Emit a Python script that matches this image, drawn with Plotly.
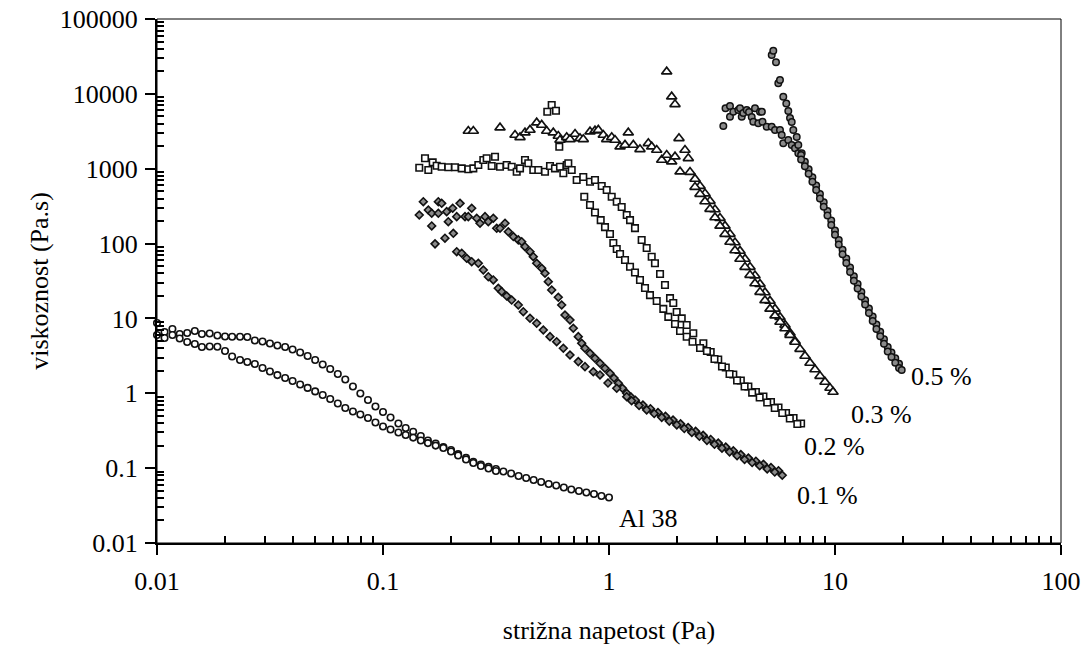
import math
import plotly.graph_objects as go

# ---------------- data ----------------
# Al 38 (open circles) - two branches of the flow curve
al38_up_x = [0.0100, 0.0108, 0.0117, 0.0126, 0.0136, 0.0147, 0.0158, 0.0171, 0.0185, 0.0200,
             0.0215, 0.0233, 0.0251, 0.0271, 0.0293, 0.0316, 0.0341, 0.0369, 0.0398, 0.0430,
             0.0464, 0.0501, 0.0541, 0.0584, 0.0631, 0.0681, 0.0736, 0.0794, 0.0858, 0.0926,
             0.100, 0.108, 0.117, 0.126, 0.136, 0.147, 0.158, 0.171, 0.185, 0.200,
             0.215, 0.233, 0.251, 0.271, 0.293, 0.316, 0.341, 0.369, 0.398, 0.430,
             0.464, 0.501, 0.541, 0.584, 0.631, 0.681, 0.736, 0.794, 0.858, 0.926, 1.000]
al38_up_y = [8.68, 6.58, 7.22, 6.19, 6.38, 6.79, 6.19, 6.28, 5.91, 5.73,
             5.69, 5.69, 5.64, 5.07, 4.91, 4.62, 4.35, 4.15, 3.84, 3.50,
             3.15, 2.78, 2.42, 2.11, 1.81, 1.53, 1.23, 0.993, 0.813, 0.665,
             0.562, 0.474, 0.395, 0.344, 0.307, 0.269, 0.234, 0.213, 0.191, 0.175,
             0.154, 0.137, 0.122, 0.112, 0.104, 0.0973, 0.0901, 0.0847, 0.0785, 0.0738,
             0.0694, 0.0653, 0.0614, 0.0586, 0.0551, 0.0518, 0.0495, 0.0472, 0.0451, 0.0424, 0.0405]
al38_down_x = [0.0100, 0.0108, 0.0117, 0.0126, 0.0136, 0.0147, 0.0158, 0.0171, 0.0185, 0.0200,
               0.0215, 0.0233, 0.0251, 0.0271, 0.0293, 0.0316, 0.0341, 0.0369, 0.0398, 0.0430,
               0.0464, 0.0501, 0.0541, 0.0584, 0.0631, 0.0681, 0.0736, 0.0794, 0.0858, 0.0926,
               0.100, 0.108, 0.117, 0.126, 0.136, 0.147, 0.158, 0.171, 0.185, 0.200,
               0.215, 0.233, 0.251, 0.271, 0.293, 0.316]
al38_down_y = [6.00, 5.47, 6.00, 5.39, 4.84, 4.55, 4.15, 4.21, 4.19, 3.67,
               3.10, 2.78, 2.62, 2.46, 2.18, 1.95, 1.75, 1.60, 1.46, 1.31,
               1.18, 1.06, 0.948, 0.838, 0.730, 0.635, 0.571, 0.520, 0.467, 0.407,
               0.360, 0.328, 0.299, 0.277, 0.256, 0.234, 0.216, 0.200, 0.186, 0.167,
               0.1475, 0.1303, 0.117, 0.1067, 0.0988, 0.0915]

# 0.1 % (grey diamonds)
c01_up_x = [0.1447, 0.1508, 0.1587, 0.1643, 0.1643, 0.1699, 0.1757, 0.1757, 0.1818, 0.1880,
            0.1913, 0.1945, 0.2034, 0.2047, 0.2119, 0.2192, 0.2306, 0.2385, 0.2469, 0.2598,
            0.2687, 0.2827, 0.2924, 0.3077, 0.3185, 0.3294, 0.3467, 0.3585, 0.3772,
            0.3969, 0.4109, 0.4249, 0.4471, 0.4624, 0.4787, 0.5038, 0.5210, 0.5388, 0.5578,
            0.5965, 0.6175, 0.6386, 0.6720, 0.6950, 0.7313, 0.7570, 0.7829, 0.8240, 0.8670,
            0.9124, 0.9600, 1.010, 1.052, 1.100, 1.147, 1.198, 1.251,
            1.308, 1.413, 1.525, 1.647, 1.778, 1.920, 2.073, 2.239, 2.417, 2.610,
            2.818, 3.043, 3.286, 3.548, 3.831, 4.137, 4.467, 4.823, 5.208, 5.623]
c01_up_y = [241, 363, 281, 254, 172, 99.1, 363, 254, 345, 118,
            267, 196, 296, 137, 229, 345, 229, 229, 296, 218,
            187, 229, 196, 218, 160, 160, 187, 144, 124,
            112, 106, 90.9, 77.9, 66.8, 54.6, 46.8, 40.1, 31.0, 24.0,
            19.2, 15.1, 11.1, 9.54, 7.39, 5.71, 4.66, 4.00, 3.42, 2.94,
            2.52, 2.16, 1.85, 1.60, 1.36, 1.167, 1.00, 0.893,
            0.809, 0.698, 0.623, 0.554, 0.493, 0.440, 0.391, 0.349, 0.310, 0.274,
            0.242, 0.216, 0.191, 0.1705, 0.1518, 0.1363, 0.1239, 0.1126, 0.1020, 0.0925]
c01_down_x = [0.2119, 0.2230, 0.2346, 0.2469, 0.2641, 0.2779, 0.2924, 0.3077, 0.3237, 0.3351,
              0.3527, 0.3711, 0.3969, 0.4176, 0.4471, 0.4787, 0.5121, 0.5482, 0.5867, 0.6280,
              0.6720, 0.7313, 0.7829, 0.8520, 0.9124, 0.9899, 1.082, 1.198,
              1.259, 1.359, 1.468, 1.585, 1.711, 1.848, 1.995, 2.154, 2.326, 2.512,
              2.712, 2.929, 3.162, 3.415, 3.687, 3.981, 4.299, 4.642, 5.012, 5.412, 5.843]
c01_down_y = [77.9, 74.2, 63.6, 57.3, 54.6, 44.4, 36.1, 32.7, 25.3, 22.8,
              19.95, 17.6, 15.1, 12.3, 10.05, 8.62, 7.01, 5.71, 4.89, 4.00,
              3.25, 2.65, 2.27, 1.94, 1.76, 1.37, 1.167, 0.901,
              0.794, 0.687, 0.600, 0.536, 0.477, 0.425, 0.378, 0.338, 0.300, 0.266,
              0.235, 0.208, 0.185, 0.165, 0.1463, 0.1305, 0.1187, 0.1075, 0.0977, 0.0886, 0.0803]

# 0.2 % (open squares)
c02_up_x = [0.1447, 0.1534, 0.1587, 0.1659, 0.1728, 0.1818, 0.1945, 0.2083, 0.2230, 0.2385,
            0.2510, 0.2641, 0.2779, 0.2876, 0.3027, 0.3131, 0.3294, 0.3527, 0.3711, 0.3905,
            0.4039, 0.4249, 0.4394, 0.4624, 0.4866, 0.5210, 0.5482, 0.5767, 0.6069, 0.6280,
            0.6499, 0.6606, 0.6839, 0.7195,
            0.7695, 0.8240, 0.8670, 0.9284, 0.9768, 1.028, 1.082, 1.138, 1.198, 1.239,
            1.303, 1.395, 1.468, 1.545, 1.597, 1.682, 1.769, 1.862, 1.925, 1.993,
            2.098, 2.207, 2.360, 2.615,
            2.818, 3.043, 3.286, 3.548, 3.831, 4.137, 4.467, 4.823, 5.208, 5.623,
            6.072, 6.556, 7.079]
c02_up_y = [1031, 1377, 961, 1217, 1097, 1063, 1044, 1044, 1012, 982,
            1012, 1121, 1307, 1377, 1087, 1447, 1063, 1121, 1063, 912,
            1012, 1307, 1181, 961, 961, 912, 1087, 1012, 1063, 868,
            1121, 1181, 961, 707,
            775, 670, 707, 587, 519, 423, 362, 308, 241, 206,
            161, 111.6, 87.2, 66.8, 54.5, 39.2, 28.0, 18.7, 16.1, 12.2,
            10.03, 8.17, 6.33, 4.65,
            3.56, 2.83, 2.21, 1.78, 1.48, 1.23, 1.04, 0.906, 0.765, 0.646,
            0.546, 0.468, 0.395]
c02_peak_x = [0.5333, 0.5578, 0.5826, 0.6026]
c02_peak_y = [5773, 7094, 5953, 1968]
c02_down_x = [0.7773, 0.8240, 0.8670, 0.9190, 0.9600, 1.010, 1.045, 1.082, 1.119, 1.177,
              1.239, 1.303, 1.371, 1.443, 1.518, 1.626, 1.739, 1.830, 1.959, 2.062,
              2.207, 2.342, 2.528,
              2.712, 2.929, 3.162, 3.415, 3.687, 3.981, 4.299, 4.642, 5.012, 5.412,
              5.843, 6.310, 6.813]
c02_down_y = [423, 327, 260, 206, 166, 134, 101.7, 84.6, 72.5, 60.3,
              49.1, 41.1, 32.6, 25.5, 20.5, 17.1, 13.4, 10.5, 8.42, 6.79,
              5.70, 4.89, 4.03,
              3.67, 2.87, 2.28, 1.81, 1.48, 1.23, 1.02, 0.879, 0.754, 0.636,
              0.546, 0.461, 0.389]

# 0.3 % (open triangles)
c03_plateau_x = [0.2385, 0.2510, 0.3294, 0.3838, 0.4039, 0.4249, 0.4471, 0.4787, 0.5038, 0.5300,
                 0.5669, 0.5965, 0.6069, 0.6499, 0.6720, 0.7075, 0.7443, 0.7695, 0.8240, 0.8670,
                 0.8968, 0.9436, 0.9768, 1.028, 1.063, 1.119, 1.177, 1.217, 1.281, 1.371,
                 1.493, 1.545, 1.626, 1.711, 1.800, 1.894, 1.959, 2.062, 2.169, 2.243]
c03_plateau_y = [3188, 3188, 3529, 2819, 2627, 3026, 3289, 4117, 3836, 3188,
                 3026, 2734, 2417, 2627, 2470, 2907, 2548, 2470, 3121, 3218,
                 3289, 2819, 2470, 2627, 2417, 1968, 2073, 3026, 2073, 1816,
                 2184, 1968, 1777, 1307, 1524, 1240, 1447, 912, 1777, 1377]
c03_peak_x = [1.800, 1.894, 1.959, 2.040]
c03_peak_y = [19760, 9158, 7251, 2548]
c03_right_x = [2.283, 2.402, 2.527, 2.659, 2.798, 2.944, 3.098, 3.260, 3.430, 3.610,
               3.798, 3.997, 4.206, 4.425, 4.657, 4.900, 5.156, 5.426, 5.709, 6.008,
               6.322, 6.652, 7.000, 7.366, 7.751, 8.156, 8.582, 9.030, 9.502, 9.80]
c03_right_y = [903, 729, 587, 466, 370, 285, 219, 172, 134, 103.3,
               79.6, 62.2, 48.6, 37.4, 28.8, 22.2, 17.1, 13.4, 10.4, 8.17,
               6.39, 4.99, 3.90, 3.15, 2.54, 2.08, 1.70, 1.415, 1.176, 1.04]
c03_left_x = [2.402, 2.527, 2.659, 2.798, 2.944, 3.098, 3.260, 3.430, 3.610, 3.798,
              3.997, 4.206, 4.425, 4.657, 4.900, 5.156, 5.426, 5.709, 6.008, 6.322, 6.652]
c03_left_y = [569, 459, 365, 289, 223, 172, 134, 105, 80.8, 62.2,
              48.6, 38.0, 29.3, 22.5, 17.4, 13.4, 10.9, 8.96, 7.34, 6.00, 4.84]

# 0.5 % (grey circles)
c05_plateau_x = [3.205, 3.277, 3.430, 3.430, 3.548, 3.734, 3.798, 3.866, 3.929, 4.068,
                 4.164, 4.280, 4.350, 4.426, 4.577, 4.657, 4.748, 4.777, 4.986, 5.248,
                 5.426, 5.709, 5.810, 5.904, 6.214, 6.434, 6.653, 6.881]
c05_plateau_y = [3726, 6421, 6893, 4961, 5784, 6094, 6421, 4961, 5558, 6094,
                 5731, 4915, 4252, 6421, 4049, 5784, 5784, 4252, 3646, 3646,
                 3295, 3295, 2825, 2188, 2423, 2077, 1876, 1609]
c05_peak_x = [5.248, 5.333, 5.482, 5.612, 5.709, 5.904, 6.088, 6.214, 6.323, 6.434,
              6.539, 6.770, 6.881, 7.123]
c05_peak_y = [33080, 37770, 26430, 13860, 15340, 9175, 7442, 5908, 4766, 4213,
              3295, 2657, 2077, 1609]
c05_a_x = [7.079, 7.356, 7.644, 7.943, 8.254, 8.577, 8.913, 9.261, 9.624, 10.00,
           10.39, 10.80, 11.22, 11.66, 12.12, 12.59, 13.08, 13.59, 14.13, 14.68,
           15.25, 15.85, 16.47, 17.11, 17.78, 18.48, 19.20]
c05_a_y = [1527, 1239, 980, 769, 596, 460, 356, 273, 203, 150,
           112, 82.9, 63.3, 47.8, 36.6, 28.9, 22.6, 17.5, 13.6, 10.6,
           8.31, 6.66, 5.27, 4.16, 3.50, 2.93, 2.49]
c05_b_x = [7.079, 7.356, 7.644, 7.943, 8.254, 8.577, 8.913, 9.261, 9.624, 10.00,
           10.39, 10.80, 11.22, 11.66, 12.12, 12.59, 13.08, 13.59, 14.13, 14.68,
           15.25, 15.85, 16.47, 17.11, 17.78, 18.48, 19.20, 19.73]
c05_b_y = [1330, 1079, 854, 670, 519, 401, 310, 238, 177, 131,
           97.3, 72.2, 55.1, 41.6, 31.9, 25.1, 19.7, 15.3, 11.8, 9.23,
           7.24, 5.80, 4.59, 3.62, 3.05, 2.55, 2.17, 2.05]

x_tick_vals = [0.01, 0.1, 1, 10, 100]
x_tick_text = ["0.01", "0.1", "1", "10", "100"]
y_tick_vals = [0.01, 0.1, 1, 10, 100, 1000, 10000, 100000]
y_tick_text = ["0.01", "0.1", "1", "10", "100", "1000", "10000", "100000"]

series_labels = ["Al 38", "0.1 %", "0.2 %", "0.3 %", "0.5 %"]

# ---------------- styles ----------------
GREY = "#8a8a8a"
EDGE = "#111111"
FONT = "Liberation Serif, Times New Roman, serif"

st_al38 = dict(symbol="circle", size=6.5, color="white", line=dict(color=EDGE, width=1.6))
st_c01 = dict(symbol="diamond", size=6, color=GREY, line=dict(color=EDGE, width=1.6))
st_c02 = dict(symbol="square", size=6.5, color="white", line=dict(color=EDGE, width=1.6))
st_c03 = dict(symbol="triangle-up", size=9, color="white", line=dict(color=EDGE, width=1.7))
st_c05 = dict(symbol="circle", size=6.5, color=GREY, line=dict(color=EDGE, width=1.5))

fig = go.Figure()


def add(xs, ys, style):
    fig.add_trace(go.Scatter(x=xs, y=ys, mode="markers", marker=style,
                             cliponaxis=False, showlegend=False, hoverinfo="skip"))


add(al38_up_x, al38_up_y, st_al38)
add(al38_down_x, al38_down_y, st_al38)
add(c01_up_x, c01_up_y, st_c01)
add(c01_down_x, c01_down_y, st_c01)
add(c02_up_x, c02_up_y, st_c02)
add(c02_peak_x, c02_peak_y, st_c02)
add(c02_down_x, c02_down_y, st_c02)
add(c03_plateau_x, c03_plateau_y, st_c03)
add(c03_peak_x, c03_peak_y, st_c03)
add(c03_right_x, c03_right_y, st_c03)
add(c03_left_x, c03_left_y, st_c03)
add(c05_plateau_x, c05_plateau_y, st_c05)
add(c05_peak_x, c05_peak_y, st_c05)
add(c05_a_x, c05_a_y, st_c05)
add(c05_b_x, c05_b_y, st_c05)

# labels next to the end of each curve
label_anchor = [
    (al38_up_x[-1], al38_up_y[-1], 8, -21),
    (c01_down_x[-1], c01_down_y[-1], 13, -20),
    (c02_up_x[-1], c02_up_y[-1], 1, -23),
    (c03_right_x[-1], c03_right_y[-1], 16, -22),
    (c05_b_x[-1], c05_b_y[-1], 7, -7),
]
annotations = []
for text, (lx, ly, dx, dy) in zip(series_labels, label_anchor):
    annotations.append(dict(x=math.log10(lx), y=math.log10(ly), xref="x", yref="y",
                            text=text, showarrow=False, xanchor="left", yanchor="middle",
                            xshift=dx, yshift=dy, font=dict(family=FONT, size=26, color="black")))

x_minor = [m * 10.0 ** e for e in range(-2, 2) for m in range(2, 10)]
y_minor = [m * 10.0 ** e for e in range(-2, 5) for m in range(2, 10)]

axis_common = dict(type="log", showgrid=False, zeroline=False, showline=True, linewidth=2,
                   linecolor="black", ticks="outside", ticklen=10, tickwidth=2, tickcolor="black",
                   tickmode="array", automargin=False,
                   tickfont=dict(family=FONT, size=26, color="black"))

fig.update_layout(
    width=1088, height=650,
    margin=dict(l=157, r=27, t=19, b=107, autoexpand=False),
    paper_bgcolor="white", plot_bgcolor="white",
    font=dict(family=FONT, size=26, color="black"),
    showlegend=False,
    xaxis=dict(axis_common, range=[-2, 2], tickvals=x_tick_vals, ticktext=x_tick_text,
               ticklabelstandoff=4,
               minor=dict(tickmode="array", tickvals=x_minor, ticks="inside", ticklen=7,
                          tickwidth=1.5, tickcolor="black", showgrid=False),
               title=dict(text="strižna napetost (Pa)", standoff=26,
                          font=dict(family=FONT, size=26, color="black"))),
    yaxis=dict(axis_common, range=[-2, 5], tickvals=y_tick_vals, ticktext=y_tick_text,
               ticklabelstandoff=2,
               minor=dict(tickmode="array", tickvals=y_minor, ticks="inside", ticklen=7,
                          tickwidth=1.5, tickcolor="black", showgrid=False),
               title=dict(text="viskoznost (Pa.s)", standoff=4,
                          font=dict(family=FONT, size=26, color="black"))),
    shapes=[dict(type="rect", xref="paper", yref="paper", x0=0, y0=0, x1=1, y1=1,
                 line=dict(color="black", width=1), layer="below")],
    annotations=annotations,
)

fig.write_html("out.html")
